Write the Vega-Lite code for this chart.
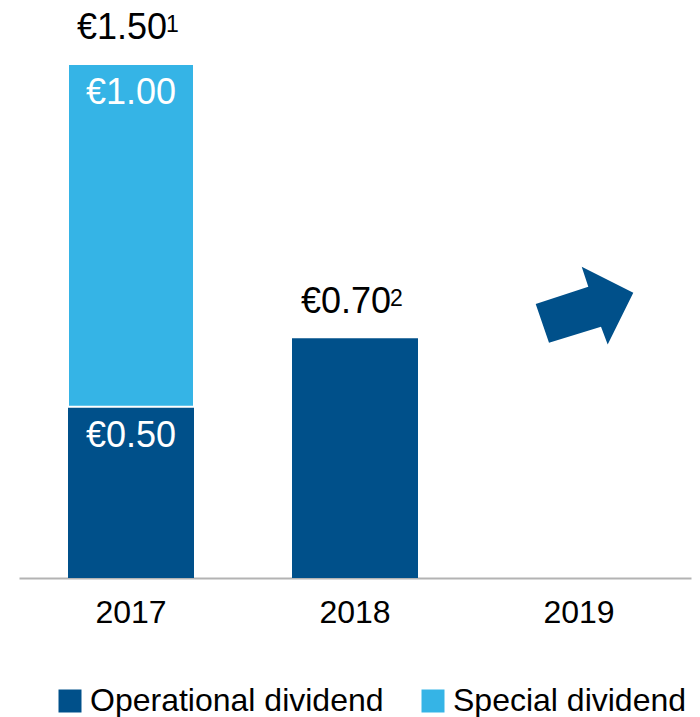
{
  "$schema": "https://vega.github.io/schema/vega-lite/v6.json",
  "width": 672,
  "height": 514,
  "autosize": {"type": "none"},
  "padding": {"left": 19, "top": 64, "right": 9, "bottom": 139},
  "config": {"view": {"stroke": null}, "font": "Liberation Sans"},
  "datasets": {
    "dividends": [
      {"year": "2017", "type": "Operational dividend", "value": 0.5, "label": "€0.50"},
      {"year": "2017", "type": "Special dividend", "value": 1.0, "label": "€1.00"},
      {"year": "2018", "type": "Operational dividend", "value": 0.7, "label": ""}
    ],
    "totals": [
      {"year": "2017", "total": 1.5, "label": "€1.50", "note": "1"},
      {"year": "2018", "total": 0.7, "label": "€0.70", "note": "2"}
    ],
    "outlook": [
      {"year": "2019", "level": 0.795}
    ]
  },
  "layer": [
    {
      "data": {"name": "dividends"},
      "transform": [
        {"stack": "value", "groupby": ["year"], "sort": [{"field": "type", "order": "ascending"}], "as": ["v0", "v1"]}
      ],
      "mark": {"type": "bar", "stroke": "white"},
      "encoding": {
        "x": {
          "field": "year", "type": "nominal", "title": null,
          "scale": {"domain": ["2017", "2018", "2019"], "paddingInner": 0.4375, "paddingOuter": 0.21875},
          "axis": {"domainColor": "#b3b3b3", "domainWidth": 2, "ticks": false, "labelFontSize": 32, "labelPadding": 19, "labelColor": "black", "labelAngle": 0, "labelFont": "Liberation Sans", "grid": false}
        },
        "y": {"field": "v0", "type": "quantitative", "scale": {"domain": [0, 1.5], "nice": false}, "axis": null},
        "y2": {"field": "v1"},
        "color": {
          "field": "type", "type": "nominal", "title": null,
          "scale": {"domain": ["Operational dividend", "Special dividend"], "range": ["#00508a", "#35b4e6"]},
          "legend": {"orient": "none", "legendX": 35, "legendY": 621, "direction": "horizontal", "symbolType": "square", "symbolSize": 529, "symbolStrokeWidth": 0, "labelFontSize": 32, "labelLimit": 0, "labelOffset": 4, "columnPadding": 33, "padding": 0, "labelColor": "black", "labelFont": "Liberation Sans"}
        },
        "strokeWidth": {"condition": {"test": "datum.type === 'Special dividend'", "value": 2}, "value": 0}
      }
    },
    {
      "data": {"name": "dividends"},
      "transform": [
        {"stack": "value", "groupby": ["year"], "sort": [{"field": "type", "order": "ascending"}], "as": ["v0", "v1"]},
        {"filter": "datum.label !== ''"}
      ],
      "mark": {"type": "text", "baseline": "alphabetic", "dy": 40, "fontSize": 36, "color": "white", "font": "Liberation Sans"},
      "encoding": {
        "x": {"field": "year", "type": "nominal"},
        "y": {"field": "v1", "type": "quantitative"},
        "text": {"field": "label"}
      }
    },
    {
      "data": {"name": "totals"},
      "mark": {"type": "text", "baseline": "alphabetic", "align": "center", "dx": -9, "dy": -25, "fontSize": 36, "color": "black", "font": "Liberation Sans"},
      "encoding": {
        "x": {"field": "year", "type": "nominal"},
        "y": {"field": "total", "type": "quantitative"},
        "text": {"field": "label"}
      }
    },
    {
      "data": {"name": "totals"},
      "mark": {"type": "text", "baseline": "alphabetic", "align": "left", "dx": 35, "dy": -32, "fontSize": 23, "color": "black", "font": "Liberation Sans"},
      "encoding": {
        "x": {"field": "year", "type": "nominal"},
        "y": {"field": "total", "type": "quantitative"},
        "text": {"field": "note"}
      }
    },
    {
      "data": {"name": "outlook"},
      "mark": {"type": "point", "shape": "M-0.866,-0.03L0.186,-0.376L0.054,-0.776L1.086,-0.256L0.574,0.776L0.44,0.424L-0.6,0.744Z", "filled": true, "size": 10000, "color": "#00508a", "opacity": 1, "strokeWidth": 0},
      "encoding": {
        "x": {"field": "year", "type": "nominal"},
        "y": {"field": "level", "type": "quantitative"}
      }
    }
  ]
}
